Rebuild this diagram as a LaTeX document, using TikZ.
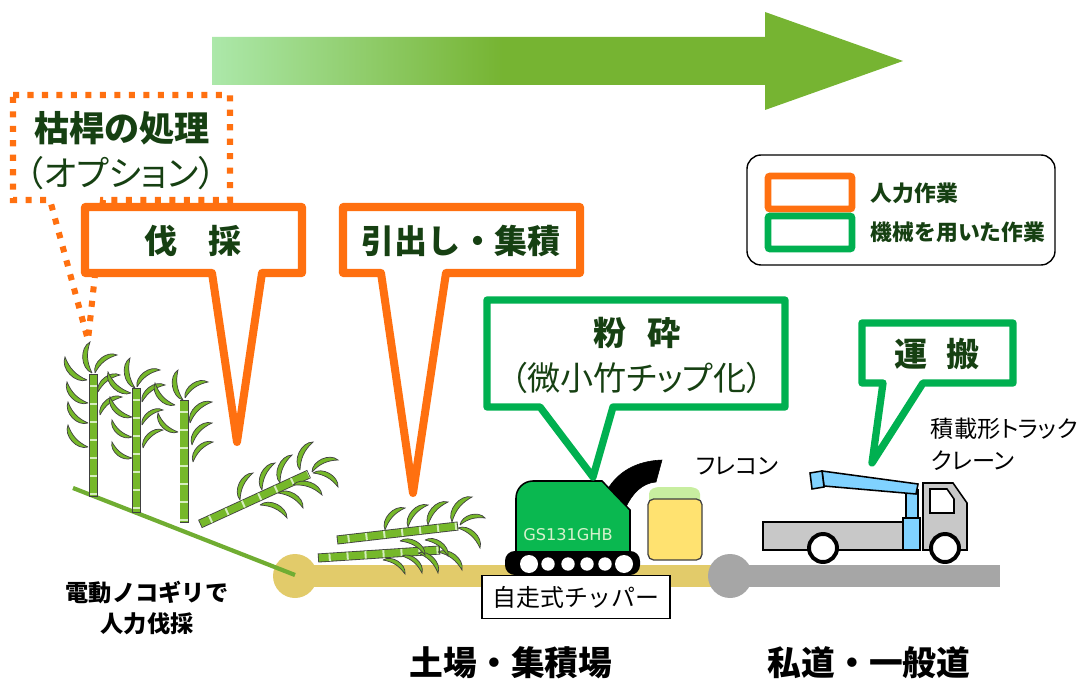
\documentclass[tikz,border=0pt]{standalone}
\usepackage{fontspec}
\setmainfont{Noto Sans CJK JP}
\newfontfamily\jpprop[RawFeature=+palt]{Noto Sans CJK JP}
\setsansfont{DejaVu Sans}

\definecolor{handorange}{RGB}{255,112,16}
\definecolor{machgreen}{RGB}{0,176,80}
\definecolor{labelgreen}{RGB}{22,64,18}
\definecolor{bamboo}{RGB}{118,184,42}
\definecolor{bambooknot}{RGB}{214,238,190}
\definecolor{slopegreen}{RGB}{112,173,50}
\definecolor{fieldyellow}{RGB}{226,203,106}
\definecolor{roadgray}{RGB}{166,166,166}
\definecolor{arrowlight}{RGB}{172,232,170}
\definecolor{arrowgreen}{RGB}{118,180,50}
\definecolor{craneblue}{RGB}{128,210,255}
\definecolor{truckgray}{RGB}{200,200,200}
\definecolor{chippergreen}{RGB}{10,184,80}
\definecolor{chippertext}{RGB}{215,242,205}
\definecolor{bagyellow}{RGB}{255,226,112}
\definecolor{bagtop}{RGB}{200,238,160}

% light to green over the first part of the arrow
\pgfdeclarehorizontalshading{flowshade}{100bp}{color(0bp)=(arrowlight); color(25bp)=(arrowlight);
  color(46bp)=(arrowgreen); color(100bp)=(arrowgreen)}

\tikzset{
  handbox/.style={draw=handorange, line width=5.7pt, fill=white, line join=round},
  machbox/.style={draw=machgreen, line width=5.2pt, fill=white, line join=round},
  optbox/.style={draw=handorange, line width=4.3pt, dash pattern=on 4.3pt off 6pt},
  boxlabel/.style={text=labelgreen, font=\bfseries\fontsize{23.5}{28}\selectfont},
  subtitle/.style={text=labelgreen, font=\jpprop\fontsize{23.5}{28}\selectfont},
  keylabel/.style={text=labelgreen, anchor=west, font=\bfseries\fontsize{15.5}{18}\selectfont},
  place/.style={font=\bfseries\fontsize{24}{28}\selectfont},
  leaf/.style={fill=bamboo, draw=black!75, line width=0.5pt},
  body/.style={draw=black, line width=1.1pt}
}

% one crescent leaf from (#1,#2) to (#3,#4), bulging to the left
\newcommand{\leaf}[4]{\filldraw[leaf] (#1,#2) to[bend left=66] (#3,#4) to[bend right=22] (#1,#2);}
% one bamboo stalk with its knots
\newcommand{\stalk}[2]{%
  \draw[line width=6.4pt, black!75] #1 -- #2;
  \draw[line width=5.2pt, bamboo, shorten <=0.6pt, shorten >=0.6pt] #1 -- #2;
  \draw[line width=5.2pt, bambooknot, dash pattern=on 1.4pt off 11.4pt, dash phase=-7pt,
        shorten <=0.6pt, shorten >=0.6pt] #1 -- #2;}

\begin{document}
\begin{tikzpicture}[x=0.025cm, y=-0.025cm]
\useasboundingbox (0,0) rectangle (1091,681);

% flow arrow
\shade[shading=flowshade] (212,37) -- (765,37) -- (765,12) -- (903,61) -- (765,110) -- (765,85) -- (212,85) -- cycle;

% optional step, dotted
\draw[optbox, fill=white] (13,95) -- (230,95) -- (230,200) -- (103,200) -- (88,340) -- (50,200) -- (13,200) -- cycle;
\node[boxlabel, font=\bfseries\fontsize{25}{28}\selectfont] (dead) at (122,128) {枯桿の処理};
\node[subtitle, font=\jpprop\fontsize{25}{28}\selectfont] (deadopt) at (121,173) {（オプション）};

% manual steps
\draw[handbox] (85,207) -- (302,207) -- (302,273) -- (262,273) -- (237,442) -- (212,273) -- (85,273) -- cycle;
\node[boxlabel] (fell) at (193,241) {伐\hspace{0.95em}採};
\draw[handbox] (343,207) -- (580,207) -- (580,273) -- (446,273) -- (413,493) -- (381,273) -- (343,273) -- cycle;
\node[boxlabel] (haul) at (461,241) {引出し・集積};

% key
\draw[line width=1pt, rounded corners=10pt] (747,155) rectangle (1055,265);
\draw[handorange, line width=4.8pt, rounded corners=1.5pt] (768,176) rectangle (852,209);
\draw[machgreen, line width=4.8pt, rounded corners=1.5pt] (768,216) rectangle (852,249);
\node[keylabel] (keyhand) at (866,193) {人力作業};
\node[keylabel] (keymach) at (866,232) {機械を用いた作業};

% ground: yard and road
\draw[fieldyellow, line width=15pt] (295,576) -- (735,576);
\fill[fieldyellow] (295,576) circle (22);
\draw[roadgray, line width=15pt] (730,576) -- (1000,576);
\fill[roadgray] (730,576) circle (22);
\draw[slopegreen, line width=3pt] (73,488) -- (295,575);

% standing bamboo
\stalk{(93.5,374)}{(93.5,497)}
\stalk{(136.5,388)}{(136.5,513)}
\stalk{(184,400)}{(184,523)}
\foreach \a/\b/\c/\d in {92/373/90/342, 95/373/117/355, 87/380/65/357, 88/403/67/382,
    88/423/68/402, 88/447/68/425, 98/392/120/375, 100/415/122/397,
    135/388/130/358, 137/387/160/370, 131/393/108/372, 132/417/110/397,
    132/437/112/420, 132/458/112/442, 142/402/165/385, 142/425/163/410,
    143/448/163/430, 175/405/155/383, 178/432/158/413,
    183/400/178/370, 185/398/208/382, 190/423/212/402, 192/445/212/423,
    193/462/213/442}
  {\leaf{\a}{\b}{\c}{\d}}

% felled bamboo
\stalk{(200,524)}{(309,474)}
\foreach \a/\b/\c/\d in {240/500/253/473, 262/490/275/463, 280/483/292/455, 300/470/313/442,
    312/472/338/460, 313/473/338/487, 293/485/322/495, 278/493/303/508, 260/505/287/518}
  {\leaf{\a}{\b}{\c}{\d}}

% bamboo piled at the yard
\stalk{(337,540)}{(458,526)}
\stalk{(318,558)}{(440,550)}
\foreach \a/\b/\c/\d in {385/530/405/508, 408/527/428/505, 428/525/448/502, 452/522/472/497,
    460/525/485/518, 458/528/480/548, 383/560/405/574, 402/556/422/573,
    418/553/438/573, 438/552/462/570, 400/541/425/555, 425/540/448/556}
  {\leaf{\a}{\b}{\c}{\d}}

% chipper
\filldraw[black] (605,494) .. controls (616,472) and (636,461) .. (662,460) -- (656,482)
  .. controls (642,483) and (632,494) .. (626,507) -- cycle;
\filldraw[fill=chippergreen, body] (516,552) -- (516,498) to[out=90,in=180] (533,481) -- (602,481)
  -- (630,510) -- (630,552) -- cycle;
\node[text=chippertext, font=\sffamily\fontsize{11.5}{13}\selectfont] (model) at (568,535) {GS131GHB};
\fill[black, rounded corners=7pt] (505,551) rectangle (640,575);
\foreach \x/\r in {529/9, 548/6.7, 568/6.7, 587/6.7, 605/6.7, 624/9}
  \fill[white] (\x,564) circle (\r);
\node[draw=black, line width=1.4pt, fill=white, minimum width=4.7cm, minimum height=1.075cm,
  inner sep=0pt, font=\fontsize{17}{20}\selectfont] (chipper) at (576,597) {自走式チッパー};

% flexible container bag
\fill[bagtop] (649,500) -- (649,494) to[out=90,in=180] (660,487) -- (689,487) to[out=0,in=90] (700,494) -- (700,500) -- cycle;
\filldraw[fill=bagyellow, draw=black!75, line width=0.9pt, rounded corners=4pt] (648,499) rectangle (702,560);
\node[font=\jpprop\fontsize{16.5}{20}\selectfont] (bag) at (737,466) {フレコン};

% crane truck
\filldraw[fill=truckgray, body] (763,522) rectangle (903,550);
\filldraw[fill=craneblue, body] (903,518) rectangle (920,550);
\filldraw[fill=craneblue, body] (906,490) rectangle (918,518);
\filldraw[fill=craneblue, body] (822,471) -- (918,484) -- (916,494) -- (824,486) -- cycle;
\filldraw[fill=craneblue, body] (810,473) -- (822,471) -- (824,487) -- (812,489) -- cycle;
\filldraw[fill=truckgray, body] (923,550) -- (923,483) -- (953,483) -- (967,503) -- (967,550) -- cycle;
\filldraw[fill=white, body] (930,489) -- (947,489) -- (954,499) -- (954,513) -- (930,513) -- cycle;
\filldraw[fill=white, draw=black, line width=2.8pt] (823,548) circle (14);
\filldraw[fill=white, draw=black, line width=2.8pt] (945,548) circle (14);
\node[anchor=west, align=left, font=\jpprop\fontsize{16.5}{22.8}\selectfont] (truck) at (926,444) {積載形トラック\\クレーン};

% machine steps
\draw[machbox] (487,300) -- (785,300) -- (785,407) -- (613,407) -- (593,477) -- (540,407) -- (487,407) -- cycle;
\node[boxlabel] (chip) at (637,333) {粉\hspace{0.65em}砕};
\node[subtitle] (chipsub) at (637,378) {（微小竹チップ化）};
\draw[machbox] (862,323) -- (1013,323) -- (1013,383) -- (923,383) -- (872,463) -- (883,383) -- (862,383) -- cycle;
\node[boxlabel] (carry) at (937,354) {運\hspace{0.6em}搬};

% captions
\node[align=center, font=\bfseries\fontsize{16.5}{21.5}\selectfont] (saw) at (147,608) {電動ノコギリで\\人力伐採};
\node[place] (yard) at (511,663) {土場・集積場};
\node[place] (road) at (869,663) {私道・一般道};
\end{tikzpicture}
\end{document}
